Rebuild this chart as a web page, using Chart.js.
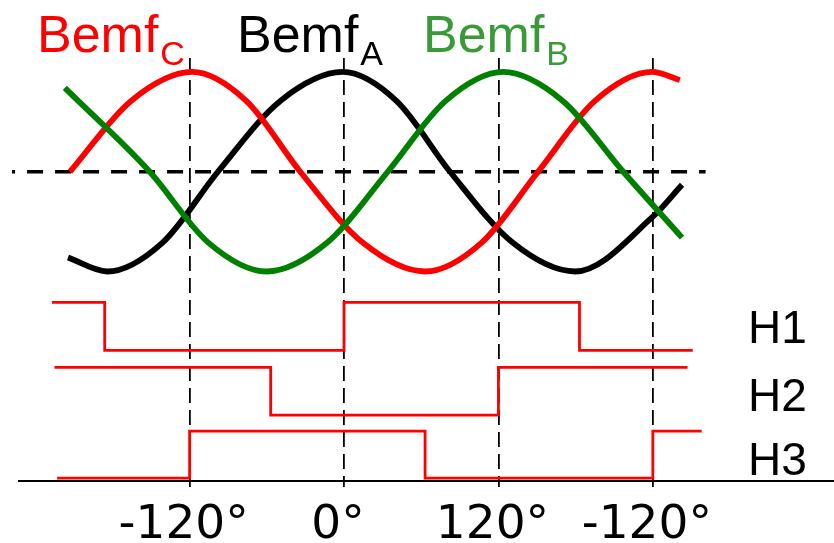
<!DOCTYPE html>
<html>
<head>
<meta charset="utf-8">
<script src="https://cdn.jsdelivr.net/npm/chart.js@4.4.1/dist/chart.umd.min.js"></script>
<style>
  html, body { margin: 0; padding: 0; background: #fff; }
  #wrap { width: 834px; height: 543px; }
</style>
</head>
<body>
<div id="wrap"><canvas id="bemfChart" width="834" height="543"></canvas></div>
<script>
// back-emf curves, angle in electrical degrees, value normalised to the peak
var bemfAAngles = [-214.5, -184, -141, -98, -49.5, -1, 40.7, 82.4, 131, 179.5, 240, 262.7];
var bemfAValues = [-0.86, -1.0, -0.71, 0.0, 0.71, 1.0, 0.71, 0.0, -0.71, -1.0, -0.45, -0.13];

var bemfBAngles = [-217, -151, -105.5, -60, -13, 34, 79, 123.6, 170, 217, 262.7];
var bemfBValues = [0.84, 0.0, -0.71, -1.0, -0.71, 0.0, 0.71, 1.0, 0.71, 0.0, -0.66];

var bemfCAngles = [-213, -165.5, -118, -76, -34, 14.5, 63, 107, 150.8, 195, 239.4, 261];
var bemfCValues = [0.0, 0.71, 1.0, 0.71, 0.0, -0.71, -1.0, -0.71, 0.0, 0.71, 1.0, 0.92];

// hall sensors: angle where each level starts (last one is the end of the trace)
var h1Edges = [-227, -186, 0, 183, 271];
var h1Levels = [1, 0, 1, 0, 0];
var h2Edges = [-225, -57, 120, 267];
var h2Levels = [1, 0, 1, 1];
var h3Edges = [-223, -120, 63, 240, 278];
var h3Levels = [0, 1, 0, 1, 1];

var xTickAngles = [-120, 0, 120, 240];
var xTickLabels = ['-120°', '0°', '120°', '-120°'];

var bemfNames = ['Bemf', 'Bemf', 'Bemf'];
var bemfSubs = ['C', 'A', 'B'];
var hallNames = ['H1', 'H2', 'H3'];

var zeroLineFrom = -258;
var zeroLineTo = 281;

// where each hall trace sits vertically (low / high), in the y units of the chart
var hallRows = [
  {low: -1.79, high: -1.31},
  {low: -2.44, high: -1.96},
  {low: -3.07, high: -2.60}
];

function toPoints(xs, ys){
  return xs.map((x, i) => ({x: x, y: ys[i]}));
}

function hallPoints(edges, levels, row){
  return edges.map((x, i) => ({x: x, y: levels[i] ? row.high : row.low}));
}

function curveDataset(xs, ys, color){
  return {
    data: toPoints(xs, ys),
    borderColor: color,
    borderWidth: 5.8,
    cubicInterpolationMode: 'monotone',
    pointRadius: 0,
    borderCapStyle: 'butt',
    clip: false
  };
}

function hallDataset(edges, levels, row){
  return {
    data: hallPoints(edges, levels, row),
    borderColor: '#ff0000',
    borderWidth: 2.8,
    stepped: 'before',
    pointRadius: 0,
    borderJoinStyle: 'miter',
    clip: false
  };
}

var labelPlugin = {
  id: 'labelPlugin',
  afterDraw(chart){
    var ctx = chart.ctx;
    var colors = ['#ff0000', '#000000', '#3a9a3a'];
    var lefts = [37, 237, 423];
    ctx.save();
    ctx.textAlign = 'left';
    ctx.textBaseline = 'alphabetic';
    for(var i = 0; i < bemfNames.length; i++){
      ctx.fillStyle = colors[i];
      ctx.font = '52px "Liberation Sans", Arial, sans-serif';
      ctx.fillText(bemfNames[i], lefts[i], 52);
      var w = ctx.measureText(bemfNames[i]).width;
      ctx.font = '34px "Liberation Sans", Arial, sans-serif';
      ctx.fillText(bemfSubs[i], lefts[i] + w + 2, 65);
    }
    ctx.fillStyle = '#000';
    ctx.font = '46px "Liberation Sans", Arial, sans-serif';
    var hallBaselines = [343, 411, 475];
    for(var j = 0; j < hallNames.length; j++){
      ctx.fillText(hallNames[j], 748, hallBaselines[j]);
    }
    ctx.restore();
  }
};

var ctx = document.getElementById('bemfChart').getContext('2d');

var bemfChart = new Chart(ctx, {
  type: 'line',
  data: {
    datasets: [
      curveDataset(bemfBAngles, bemfBValues, '#008000'),
      curveDataset(bemfCAngles, bemfCValues, '#ff0000'),
      curveDataset(bemfAAngles, bemfAValues, '#000000'),
      hallDataset(h1Edges, h1Levels, hallRows[0]),
      hallDataset(h2Edges, h2Levels, hallRows[1]),
      hallDataset(h3Edges, h3Levels, hallRows[2]),
      {
        data: [{x: zeroLineFrom, y: 0}, {x: zeroLineTo, y: 0}],
        borderColor: '#000',
        borderWidth: 3.5,
        borderDash: [16, 12],
        borderDashOffset: 13,
        pointRadius: 0,
        clip: false
      }
    ]
  },
  options: {
    responsive: false,
    devicePixelRatio: 1,
    animation: false,
    layout: {
      padding: {left: 19, right: 0, top: 58, bottom: -22}
    },
    plugins: {
      legend: {display: false},
      tooltip: {enabled: false}
    },
    scales: {
      x: {
        type: 'linear',
        position: 'bottom',
        min: -252.6,
        max: 380.8,
        bounds: 'data',
        z: 1,
        afterBuildTicks: (scale) => {
          scale.ticks = xTickAngles.map(v => ({value: v}));
        },
        grid: {
          display: true,
          drawOnChartArea: true,
          drawTicks: true,
          tickLength: 6,
          color: '#000',
          lineWidth: 1.8,
          tickColor: '#000',
          tickWidth: 1.8
        },
        border: {
          display: true,
          color: '#000',
          width: 2,
          dash: [15, 7]
        },
        ticks: {
          autoSkip: false,
          maxRotation: 0,
          padding: 19,
          labelOffset: -6,
          color: '#000',
          font: {family: '"DejaVu Sans", Verdana, sans-serif', size: 47, lineHeight: 0.85},
          callback: (value, index) => xTickLabels[index]
        }
      },
      y: {
        type: 'linear',
        display: false,
        min: -3.10,
        max: 1.14
      }
    }
  },
  plugins: [labelPlugin]
});
</script>
</body>
</html>
